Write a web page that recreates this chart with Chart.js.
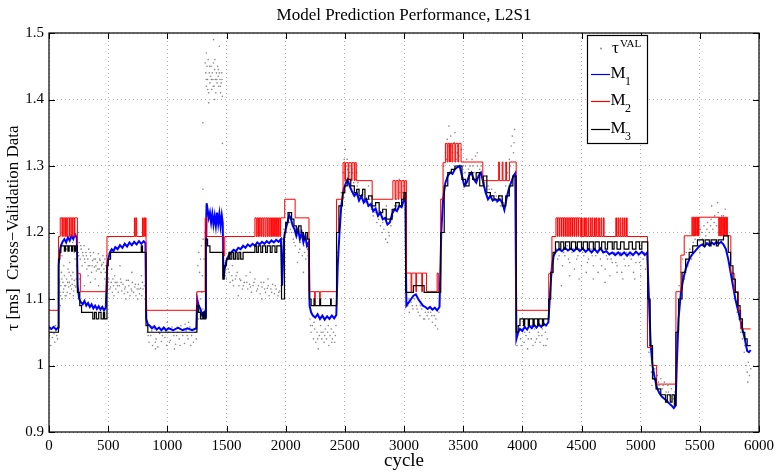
<!DOCTYPE html>
<html>
<head>
<meta charset="utf-8">
<script src="https://cdn.jsdelivr.net/npm/chart.js@4/dist/chart.umd.min.js"></script>
<style>
  html, body { margin: 0; padding: 0; background: #fff; }
  #wrap { width: 779px; height: 474px; }
</style>
</head>
<body>
<div id="wrap"><canvas id="chart" width="779" height="474"></canvas></div>
<script>
// Tick values
const xTicks = [0, 500, 1000, 1500, 2000, 2500, 3000, 3500, 4000, 4500, 5000, 5500, 6000];
const yTicks = [0.9, 1.0, 1.1, 1.2, 1.3, 1.4, 1.5];

// tau^VAL measured samples (gray dots), [cycle, ms]
const tauVal = [
  [5,1.045],[12,1.055],[20,1.05],[28,1.042],[35,1.058],[42,1.048],[50,1.035],[58,1.052],[65,1.045],[72,1.04],[15,1.03],[55,1.06],
  [85,1.13],[92,1.11],[100,1.12],[105,1.14],[112,1.10],[118,1.125],[124,1.115],[130,1.135],[136,1.105],[142,1.12],[148,1.13],[154,1.11],[160,1.145],[166,1.118],[172,1.125],[178,1.108],[184,1.135],[190,1.115],[196,1.122],[202,1.14],[208,1.112],[214,1.128],[220,1.16],[226,1.118],[232,1.15],[110,1.165],[150,1.175],[200,1.185],[180,1.19],[95,1.09],
  [88,1.125],[98,1.105],[108,1.13],[120,1.11],[132,1.12],[145,1.105],[158,1.125],[170,1.14],[182,1.12],[194,1.13],[206,1.105],[218,1.12],[230,1.13],[125,1.15],[175,1.155],[215,1.17],
  [248,1.17],[256,1.185],[264,1.16],[272,1.175],[280,1.15],[288,1.165],[296,1.18],[304,1.155],[312,1.17],[320,1.145],[328,1.16],[336,1.175],[344,1.15],[352,1.165],[360,1.14],[368,1.158],[376,1.17],[384,1.148],[392,1.16],[400,1.142],[408,1.155],[416,1.168],[424,1.145],[432,1.158],[440,1.14],[448,1.152],[456,1.165],[464,1.145],[472,1.16],[480,1.15],[260,1.13],[300,1.12],[350,1.125],[420,1.12],[470,1.13],[250,1.2],
  [252,1.165],[268,1.18],[284,1.17],[300,1.16],[316,1.165],[332,1.15],[348,1.17],[364,1.15],[380,1.16],[396,1.15],[412,1.145],[428,1.16],[444,1.15],[460,1.155],[476,1.14],[485,1.165],[330,1.135],[390,1.13],
  [495,1.12],[505,1.13],[515,1.115],[525,1.125],[535,1.11],[545,1.12],[555,1.135],[565,1.115],[575,1.125],[585,1.11],[595,1.12],[605,1.13],[615,1.112],[625,1.122],[635,1.108],[645,1.118],[655,1.128],[665,1.11],[675,1.12],[685,1.105],[695,1.115],[705,1.125],[715,1.11],[725,1.118],[735,1.105],[745,1.115],[755,1.122],[765,1.108],[775,1.116],[785,1.105],[795,1.115],[805,1.12],[530,1.145],[600,1.15],[700,1.14],[780,1.135],[810,1.1],
  [500,1.125],[520,1.118],[540,1.13],[560,1.125],[580,1.12],[610,1.125],[640,1.115],[670,1.128],[700,1.112],[730,1.122],[760,1.115],[790,1.125],[815,1.11],[550,1.105],[650,1.1],[750,1.1],
  [830,1.05],[845,1.035],[860,1.045],[875,1.03],[890,1.055],[905,1.04],[920,1.028],[935,1.048],[950,1.036],[965,1.055],[980,1.042],[995,1.03],[1010,1.05],[1025,1.038],[1040,1.058],[1055,1.045],[1070,1.032],[1085,1.05],[1100,1.04],[1115,1.06],[1130,1.045],[1145,1.033],[1160,1.052],[1175,1.04],[1190,1.058],[1205,1.045],[1220,1.035],[1235,1.05],[1245,1.04],[1000,1.065],[1180,1.065],
  [838,1.045],[868,1.052],[898,1.035],[928,1.05],[958,1.045],[988,1.052],[1018,1.035],[1048,1.05],[1078,1.045],[1108,1.03],[1138,1.055],[1168,1.045],[1198,1.03],[1228,1.055],[900,1.025],[1060,1.025],[1150,1.062],
  [1255,1.08],[1262,1.07],[1270,1.09],[1278,1.1],[1285,1.075],[1292,1.11],[1300,1.085],[1258,1.15],[1265,1.17],[1272,1.14],[1280,1.16],[1288,1.18],[1295,1.135],[1302,1.19],[1310,1.16],[1318,1.2],[1300,1.265],[1300,1.365],[1466,1.334],
  [1325,1.44],[1330,1.42],[1335,1.45],[1340,1.43],[1345,1.46],[1350,1.41],[1355,1.44],[1360,1.425],[1365,1.435],[1370,1.45],[1375,1.415],[1380,1.44],[1385,1.43],[1390,1.455],[1395,1.42],[1400,1.445],[1405,1.43],[1410,1.41],[1415,1.44],[1420,1.425],[1425,1.45],[1430,1.435],[1435,1.42],[1440,1.44],[1445,1.43],[1450,1.41],[1455,1.425],[1460,1.44],[1465,1.405],[1330,1.47],[1350,1.395],[1390,1.49],[1440,1.48],[1320,1.455],[1400,1.40],
  [1328,1.43],[1342,1.415],[1358,1.45],[1372,1.43],[1388,1.42],[1402,1.46],[1418,1.43],[1432,1.445],[1448,1.42],[1462,1.43],
  [1485,1.14],[1500,1.13],[1515,1.145],[1530,1.125],[1545,1.135],[1560,1.12],[1575,1.13],[1590,1.14],[1605,1.12],[1620,1.128],[1635,1.115],[1650,1.125],[1665,1.135],[1680,1.115],[1695,1.122],[1710,1.11],[1725,1.12],[1740,1.13],[1755,1.112],[1770,1.12],[1785,1.108],[1800,1.118],[1815,1.125],[1830,1.11],[1845,1.116],[1860,1.105],[1875,1.115],[1890,1.122],[1905,1.108],[1920,1.115],[1935,1.105],[1950,1.112],[1962,1.12],[1490,1.155],[1550,1.15],[1700,1.14],[1850,1.13],
  [1492,1.135],[1522,1.14],[1552,1.128],[1582,1.135],[1612,1.13],[1642,1.12],[1672,1.125],[1702,1.118],[1732,1.125],[1762,1.115],[1792,1.125],[1822,1.115],[1852,1.12],[1882,1.11],[1912,1.12],[1942,1.11],[1600,1.105],[1800,1.1],
  [1975,1.19],[1990,1.2],[2005,1.21],[2020,1.22],[2035,1.215],[2050,1.2],[2065,1.19],[2080,1.18],[2095,1.195],[2110,1.17],[2125,1.185],[2140,1.165],[2155,1.18],[2170,1.16],[2185,1.175],[2195,1.15],[2100,1.155],[2150,1.14],
  [1985,1.205],[2010,1.2],[2040,1.205],[2070,1.185],[2120,1.175],[2160,1.17],[2190,1.165],
  [2205,1.07],[2215,1.05],[2225,1.06],[2235,1.04],[2245,1.055],[2255,1.035],[2265,1.05],[2275,1.025],[2285,1.045],[2295,1.06],[2305,1.04],[2315,1.05],[2325,1.035],[2335,1.055],[2345,1.04],[2355,1.05],[2365,1.03],[2375,1.045],[2385,1.055],[2395,1.04],[2405,1.05],[2415,1.035],[2425,1.06],
  [2210,1.06],[2240,1.065],[2270,1.04],[2300,1.05],[2330,1.045],[2360,1.06],[2390,1.035],[2420,1.045],
  [2440,1.17],[2455,1.22],[2470,1.26],[2485,1.29],[2495,1.31],[2505,1.325],[2515,1.30],[2525,1.295],[2535,1.285],[2545,1.30],[2555,1.28],[2565,1.29],[2575,1.275],[2590,1.28],[2605,1.27],[2620,1.265],[2635,1.255],[2650,1.26],[2665,1.25],[2680,1.245],[2695,1.24],[2710,1.25],[2725,1.235],[2740,1.225],[2755,1.23],[2770,1.215],[2785,1.22],[2800,1.21],[2815,1.2],[2830,1.205],[2845,1.19],[2860,1.185],[2875,1.195],[2890,1.21],[2905,1.225],[2920,1.24],[2935,1.25],[2950,1.235],[2965,1.26],[2980,1.245],[2995,1.27],[3005,1.255],[2600,1.29],[2700,1.27],[2850,1.24],[2960,1.28],
  [2500,1.30],[2520,1.31],[2540,1.29],[2560,1.295],[2610,1.275],[2660,1.265],[2720,1.24],[2780,1.225],[2820,1.215],[2870,1.2],[2940,1.24],[2990,1.26],
  [3030,1.09],[3045,1.08],[3060,1.095],[3075,1.085],[3090,1.10],[3105,1.09],[3120,1.08],[3135,1.075],[3150,1.085],[3165,1.07],[3180,1.08],[3195,1.075],[3210,1.07],[3225,1.08],[3240,1.065],[3255,1.075],[3270,1.07],[3285,1.055],[3295,1.08],
  [3035,1.1],[3070,1.09],[3110,1.085],[3140,1.09],[3175,1.07],[3205,1.08],[3235,1.075],[3265,1.06],
  [3320,1.25],[3335,1.3],[3350,1.32],[3365,1.34],[3380,1.33],[3395,1.345],[3410,1.32],[3425,1.335],[3440,1.31],[3455,1.33],[3470,1.315],[3485,1.325],[3500,1.3],[3515,1.29],[3530,1.31],[3545,1.295],[3560,1.30],[3575,1.31],[3590,1.29],[3605,1.315],[3620,1.3],[3635,1.29],[3650,1.30],[3665,1.28],[3680,1.275],[3695,1.265],[3710,1.27],[3725,1.255],[3740,1.265],[3755,1.25],[3770,1.26],[3785,1.245],[3800,1.255],[3815,1.24],[3830,1.25],[3845,1.235],[3860,1.27],[3875,1.29],[3890,1.31],[3905,1.33],[3915,1.345],[3925,1.32],[3935,1.355],[3380,1.36],[3430,1.35],[3620,1.32],[3700,1.285],
  [3360,1.31],[3400,1.33],[3450,1.32],[3520,1.30],[3580,1.3],[3640,1.295],[3720,1.265],[3780,1.255],[3840,1.245],[3900,1.3],[3930,1.335],
  [3955,1.03],[3970,1.05],[3985,1.04],[4000,1.055],[4015,1.035],[4030,1.045],[4045,1.025],[4060,1.05],[4075,1.04],[4090,1.03],[4105,1.055],[4120,1.04],[4135,1.05],[4150,1.035],[4165,1.045],[4180,1.03],[4195,1.05],[4210,1.04],
  [3960,1.045],[3990,1.03],[4020,1.05],[4050,1.04],[4080,1.06],[4110,1.035],[4140,1.045],[4170,1.055],[4200,1.03],
  [4235,1.10],[4250,1.14],[4265,1.16],[4280,1.17],[4300,1.16],[4320,1.175],[4340,1.15],[4360,1.165],[4380,1.18],[4400,1.155],[4420,1.17],[4440,1.145],[4460,1.16],[4480,1.175],[4500,1.15],[4520,1.165],[4540,1.14],[4560,1.16],[4580,1.175],[4600,1.15],[4620,1.165],[4640,1.14],[4660,1.16],[4680,1.17],[4700,1.145],[4720,1.16],[4740,1.135],[4760,1.155],[4780,1.17],[4800,1.15],[4820,1.165],[4840,1.14],[4860,1.16],[4880,1.17],[4900,1.15],[4920,1.16],[4940,1.14],[4960,1.155],[4980,1.165],[5000,1.15],[5020,1.16],[5040,1.145],[5055,1.16],[4330,1.12],[4480,1.13],[4700,1.125],[4850,1.13],[5000,1.135],
  [4290,1.175],[4310,1.165],[4350,1.17],[4390,1.16],[4430,1.175],[4470,1.165],[4510,1.17],[4550,1.155],[4590,1.165],[4630,1.17],[4670,1.15],[4710,1.165],[4750,1.16],[4790,1.155],[4830,1.17],[4870,1.15],[4910,1.165],[4950,1.17],[4990,1.155],[5030,1.17],[4400,1.135],[4600,1.13],[4800,1.14],[4950,1.13],
  [5070,1.02],[5080,1.0],[5090,0.99],[5100,1.01],[5110,0.98],[5120,0.995],[5130,0.975],[5140,0.985],[5155,0.97],[5170,0.98],[5185,0.965],[5200,0.975],[5215,0.96],[5230,0.97],[5245,0.955],[5260,0.965],[5275,0.95],[5290,0.96],[5075,1.03],[5095,0.97],
  [5105,0.99],[5150,0.975],[5190,0.97],[5235,0.96],[5280,0.955],
  [5310,1.05],[5325,1.12],[5340,1.14],[5355,1.16],[5370,1.13],[5385,1.17],[5400,1.15],[5415,1.175],[5430,1.16],[5445,1.185],[5460,1.19],[5475,1.2],[5490,1.18],[5505,1.205],[5520,1.19],[5535,1.21],[5550,1.195],[5565,1.215],[5580,1.2],[5595,1.22],[5610,1.205],[5625,1.225],[5640,1.21],[5655,1.23],[5670,1.2],[5685,1.225],[5700,1.21],[5715,1.235],[5730,1.2],[5600,1.24],[5650,1.245],[5500,1.17],
  [5450,1.195],[5520,1.2],[5560,1.205],[5590,1.21],[5620,1.215],[5660,1.22],[5700,1.225],[5720,1.215],
  [5755,1.15],[5770,1.13],[5785,1.12],[5800,1.1],[5815,1.08],[5830,1.07],[5845,1.05],[5860,1.04],[5875,1.02],[5890,1.0],[5900,0.99],[5910,1.005],[5920,0.985],[5930,0.995],[5880,1.03],[5905,0.975]
];

// M1 prediction (blue)
const m1 = [
  [0,1.058],[20,1.055],[40,1.058],[60,1.054],[78,1.057],
  [82,1.15],[90,1.17],[100,1.18],[115,1.186],[130,1.19],[145,1.185],[160,1.193],[175,1.188],[190,1.195],[205,1.19],[220,1.197],[235,1.192],
  [242,1.12],[255,1.10],[270,1.095],[285,1.092],[300,1.097],[315,1.09],[330,1.094],[345,1.088],[360,1.092],[375,1.086],[390,1.09],[405,1.085],[420,1.089],[435,1.084],[450,1.088],[465,1.083],[480,1.087],
  [492,1.15],[500,1.16],[515,1.17],[530,1.175],[545,1.172],[560,1.178],[580,1.175],[600,1.181],[620,1.177],[640,1.183],[660,1.179],[680,1.185],[700,1.181],[720,1.186],[740,1.182],[760,1.187],[780,1.183],[800,1.187],[815,1.184],
  [822,1.07],[835,1.062],[850,1.06],[870,1.056],[890,1.059],[910,1.054],[930,1.057],[950,1.053],[970,1.057],[990,1.053],[1010,1.056],[1050,1.053],[1090,1.057],[1130,1.053],[1170,1.056],[1210,1.053],[1245,1.056],
  [1252,1.10],[1265,1.09],[1280,1.085],[1295,1.075],[1310,1.08],[1320,1.072],
  [1326,1.20],[1332,1.244],[1340,1.235],[1350,1.222],[1360,1.23],[1370,1.215],[1380,1.228],[1390,1.212],[1400,1.225],[1410,1.21],[1420,1.23],[1430,1.213],[1440,1.228],[1450,1.21],[1460,1.226],[1468,1.215],
  [1474,1.13],[1485,1.145],[1500,1.158],[1520,1.166],[1540,1.17],[1560,1.174],[1580,1.172],[1600,1.177],[1620,1.175],[1640,1.18],[1660,1.177],[1680,1.182],[1700,1.179],[1720,1.183],[1740,1.18],[1760,1.185],[1780,1.182],[1800,1.186],[1820,1.183],[1840,1.187],[1860,1.184],[1880,1.188],[1900,1.185],[1920,1.189],[1940,1.186],[1960,1.19],
  [1970,1.12],[1985,1.19],[2000,1.205],[2015,1.215],[2030,1.226],[2045,1.22],[2060,1.21],[2075,1.205],[2090,1.195],[2105,1.205],[2120,1.19],[2135,1.2],[2150,1.185],[2165,1.195],[2180,1.18],[2195,1.185],
  [2202,1.09],[2215,1.08],[2230,1.075],[2250,1.072],[2270,1.077],[2290,1.07],[2310,1.075],[2330,1.069],[2350,1.074],[2370,1.07],[2390,1.075],[2410,1.071],[2428,1.076],
  [2440,1.15],[2455,1.2],[2470,1.24],[2490,1.265],[2510,1.275],[2525,1.28],[2540,1.27],[2560,1.262],[2580,1.255],[2600,1.26],[2620,1.248],[2640,1.255],[2660,1.245],[2680,1.25],[2700,1.24],[2720,1.243],[2740,1.232],[2760,1.236],[2780,1.225],[2800,1.23],[2820,1.22],[2840,1.222],[2860,1.212],[2880,1.215],[2900,1.228],[2920,1.235],[2940,1.232],[2960,1.24],[2980,1.238],[3000,1.25],[3012,1.245],
  [3020,1.09],[3040,1.095],[3060,1.1],[3080,1.105],[3100,1.107],[3120,1.1],[3140,1.095],[3160,1.09],[3180,1.088],[3200,1.085],[3220,1.088],[3240,1.084],[3260,1.087],[3280,1.083],[3300,1.088],
  [3315,1.2],[3330,1.25],[3350,1.275],[3370,1.285],[3390,1.29],[3410,1.288],[3430,1.295],[3450,1.298],[3470,1.3],[3490,1.285],[3510,1.27],[3530,1.275],[3550,1.285],[3570,1.29],[3590,1.28],[3610,1.275],[3630,1.285],[3650,1.29],[3670,1.275],[3690,1.26],[3710,1.25],[3730,1.255],[3750,1.248],[3770,1.25],[3790,1.247],[3810,1.25],[3830,1.245],[3848,1.234],[3865,1.25],[3885,1.265],[3905,1.275],[3925,1.285],[3940,1.289],
  [3950,1.04],[3965,1.05],[3980,1.055],[4000,1.052],[4020,1.058],[4040,1.054],[4060,1.06],[4080,1.056],[4100,1.061],[4120,1.057],[4140,1.062],[4160,1.058],[4180,1.063],[4200,1.06],[4220,1.065],
  [4235,1.11],[4250,1.15],[4265,1.165],[4285,1.172],[4310,1.175],[4335,1.172],[4360,1.177],[4385,1.173],[4410,1.176],[4435,1.172],[4460,1.177],[4485,1.172],[4510,1.176],[4535,1.171],[4560,1.175],[4585,1.17],[4610,1.175],[4635,1.17],[4660,1.176],[4685,1.17],[4710,1.172],[4735,1.167],[4760,1.17],[4785,1.166],[4810,1.17],[4835,1.166],[4860,1.17],[4885,1.165],[4910,1.17],[4935,1.166],[4960,1.171],[4985,1.167],[5010,1.171],[5035,1.166],[5055,1.17],
  [5070,1.10],[5085,1.03],[5100,1.0],[5120,0.98],[5140,0.965],[5160,0.958],[5180,0.953],[5200,0.95],[5220,0.947],[5240,0.943],[5260,0.94],[5280,0.936],[5295,0.94],
  [5305,1.0],[5320,1.07],[5340,1.11],[5360,1.13],[5380,1.145],[5400,1.155],[5420,1.163],[5440,1.168],[5460,1.172],[5480,1.176],[5500,1.18],[5520,1.182],[5540,1.179],[5560,1.184],[5580,1.181],[5600,1.185],[5620,1.182],[5640,1.186],[5660,1.183],[5680,1.186],[5700,1.182],[5720,1.175],[5740,1.16],[5760,1.14],[5780,1.12],[5800,1.10],[5820,1.085],[5840,1.07],[5860,1.055],[5880,1.04],[5900,1.022],[5915,1.02],[5930,1.023]
];

// M2 prediction (red), step values: each level holds until the next cycle listed
const m2 = [
  [0,1.083],[80,1.194],[95,1.222],[110,1.194],[113,1.222],[125,1.194],[128,1.222],[140,1.194],[143,1.222],[150,1.194],[155,1.222],[170,1.194],[173,1.222],[185,1.194],[188,1.222],[200,1.194],[203,1.222],[215,1.194],[218,1.222],
  [240,1.138],[265,1.111],[490,1.194],[722,1.222],[728,1.194],[735,1.222],[741,1.194],[790,1.222],[796,1.194],[803,1.222],[809,1.194],[815,1.222],
  [820,1.083],[1250,1.111],[1320,1.222],[1335,1.194],[1470,1.165],[1485,1.194],
  [1740,1.222],[1752,1.194],[1760,1.222],[1770,1.194],[1778,1.222],[1790,1.194],[1797,1.222],[1808,1.194],[1815,1.222],[1826,1.194],[1834,1.222],[1845,1.194],[1852,1.222],[1862,1.194],[1870,1.222],[1880,1.194],[1888,1.222],[1898,1.194],[1905,1.222],[1915,1.194],[1922,1.222],[1932,1.194],[1940,1.222],[1950,1.194],[1957,1.222],
  [1992,1.25],[2080,1.222],[2197,1.111],[2245,1.09],[2250,1.111],[2287,1.09],[2292,1.111],
  [2430,1.25],[2485,1.305],[2500,1.278],[2506,1.305],[2528,1.278],[2534,1.305],[2555,1.278],[2561,1.305],[2580,1.278],[2586,1.305],[2597,1.278],[2731,1.25],
  [2906,1.278],[2925,1.25],[2932,1.278],[2950,1.25],[2957,1.278],[2975,1.25],[2982,1.278],[3000,1.25],[3007,1.278],
  [3020,1.139],[3060,1.111],[3066,1.139],[3100,1.111],[3106,1.139],[3150,1.111],[3156,1.139],[3190,1.111],[3280,1.139],[3290,1.111],
  [3310,1.25],[3330,1.305],[3350,1.334],[3365,1.306],[3372,1.334],[3385,1.306],[3392,1.334],[3405,1.306],[3412,1.334],[3430,1.306],[3437,1.334],[3455,1.306],[3462,1.334],
  [3482,1.306],[3666,1.278],[3800,1.306],[3806,1.278],[3830,1.306],[3836,1.278],[3860,1.306],[3866,1.278],[3891,1.306],
  [3948,1.083],[4223,1.138],[4250,1.194],
  [4284,1.222],[4296,1.194],[4300,1.222],[4312,1.194],[4316,1.222],[4328,1.194],[4332,1.222],[4344,1.194],[4348,1.222],[4360,1.194],[4364,1.222],[4376,1.194],[4380,1.222],[4392,1.194],[4396,1.222],[4408,1.194],[4412,1.222],[4424,1.194],[4428,1.222],[4440,1.194],[4444,1.222],[4456,1.194],[4460,1.222],[4472,1.194],[4476,1.222],[4490,1.194],
  [4500,1.222],[4506,1.194],[4520,1.222],[4526,1.194],[4535,1.222],[4541,1.194],[4555,1.222],[4561,1.194],[4575,1.222],[4581,1.194],[4590,1.222],[4596,1.194],[4610,1.222],[4616,1.194],[4625,1.222],[4631,1.194],[4645,1.222],[4651,1.194],[4665,1.222],[4671,1.194],[4685,1.222],[4691,1.194],
  [4790,1.222],[4796,1.194],[4808,1.222],[4814,1.194],[4826,1.222],[4832,1.194],[4845,1.222],[4851,1.194],[4862,1.222],[4868,1.194],[4880,1.222],[4886,1.194],
  [5058,1.027],[5101,1.0],[5135,0.972],[5298,1.111],[5340,1.166],[5368,1.195],
  [5433,1.223],[5440,1.195],[5445,1.223],[5452,1.195],[5457,1.223],[5464,1.195],[5469,1.223],[5476,1.195],[5481,1.223],[5488,1.195],[5493,1.223],
  [5660,1.195],[5665,1.223],[5672,1.195],[5677,1.223],[5684,1.195],[5689,1.223],[5696,1.195],[5701,1.223],[5708,1.195],[5713,1.223],[5720,1.195],[5725,1.223],
  [5733,1.195],[5762,1.139],[5790,1.111],[5826,1.083],[5845,1.055],[5930,1.055]
];

// M3 prediction (black), step values
const m3 = [
  [0,1.05],[80,1.16],[90,1.17],[100,1.18],[130,1.172],[140,1.18],[160,1.172],[170,1.18],[190,1.172],[200,1.18],[215,1.172],[225,1.18],
  [240,1.11],[260,1.09],[275,1.08],[370,1.07],[385,1.08],[400,1.07],[420,1.08],[440,1.07],[460,1.08],[470,1.07],
  [490,1.15],[500,1.16],[520,1.17],[780,1.18],[790,1.17],[820,1.06],[835,1.05],
  [1250,1.09],[1265,1.08],[1280,1.07],[1300,1.08],[1310,1.07],[1325,1.19],[1340,1.18],[1360,1.17],
  [1470,1.13],[1480,1.15],[1500,1.16],[1520,1.17],[1530,1.16],[1545,1.17],[1560,1.16],[1575,1.17],[1590,1.16],[1605,1.17],[1620,1.16],[1640,1.17],
  [1740,1.18],[1755,1.17],[1770,1.18],[1790,1.17],[1805,1.18],[1830,1.17],[1845,1.18],[1870,1.17],[1885,1.18],[1910,1.17],[1925,1.18],
  [1965,1.10],[1990,1.20],[2000,1.215],[2020,1.23],[2050,1.22],[2070,1.21],[2090,1.20],[2110,1.21],[2130,1.20],[2150,1.19],[2170,1.20],[2185,1.19],
  [2200,1.10],[2215,1.09],[2240,1.10],[2245,1.09],[2290,1.10],[2295,1.09],[2380,1.10],[2385,1.09],
  [2430,1.20],[2450,1.24],[2480,1.26],[2500,1.27],[2520,1.28],[2550,1.27],[2580,1.26],[2600,1.265],[2620,1.255],[2650,1.265],[2670,1.25],[2700,1.255],[2730,1.24],[2760,1.245],[2790,1.23],[2820,1.235],[2850,1.22],[2900,1.235],[2930,1.245],[2960,1.24],[2980,1.25],[3000,1.26],
  [3015,1.11],[3080,1.12],[3170,1.11],
  [3310,1.20],[3340,1.27],[3370,1.29],[3400,1.295],[3430,1.30],[3490,1.28],[3520,1.27],[3550,1.29],[3580,1.28],[3610,1.29],[3640,1.27],[3670,1.285],[3700,1.26],[3730,1.255],[3760,1.25],[3800,1.255],[3830,1.24],[3860,1.255],[3890,1.27],[3920,1.285],
  [3948,1.05],[3965,1.06],[3980,1.07],[4010,1.06],[4020,1.07],[4050,1.06],[4060,1.07],[4090,1.06],[4100,1.07],[4130,1.06],[4140,1.07],[4170,1.06],[4180,1.07],
  [4223,1.10],[4240,1.14],[4260,1.17],[4280,1.186],[4310,1.175],[4325,1.186],[4350,1.175],[4365,1.186],[4400,1.175],[4415,1.186],[4450,1.175],[4465,1.186],[4500,1.175],[4515,1.186],[4550,1.175],[4565,1.186],[4600,1.175],[4615,1.186],[4650,1.175],[4670,1.186],[4700,1.175],[4720,1.186],[4760,1.175],[4775,1.186],[4800,1.175],[4830,1.186],[4860,1.175],[4900,1.186],[4930,1.175],[4960,1.186],[4990,1.175],[5010,1.186],
  [5060,1.10],[5080,1.03],[5100,0.98],[5130,0.965],[5170,0.956],[5210,0.945],[5225,0.956],[5250,0.945],[5265,0.956],[5285,0.94],
  [5298,1.05],[5320,1.10],[5350,1.14],[5380,1.16],[5410,1.17],[5440,1.18],[5480,1.189],[5530,1.18],[5545,1.189],[5580,1.18],[5595,1.189],[5640,1.18],[5655,1.189],[5700,1.195],
  [5740,1.17],[5760,1.15],[5780,1.13],[5800,1.11],[5820,1.09],[5840,1.07],[5860,1.05],[5880,1.04],[5900,1.03],[5930,1.03]
];

const SERIF = '"Liberation Serif", "DejaVu Serif", serif';
const COLORS = { tau: '#858585', m1: '#0000ff', m2: '#ff0000', m3: '#000000' };
const toXY = arr => arr.map(p => ({ x: p[0], y: p[1] }));

// Box, inward ticks, titles and legend (matlab look)
const frame = {
  id: 'frame',
  afterDraw(chart) {
    const { ctx, chartArea: a, scales } = chart;
    ctx.save();
    ctx.strokeStyle = '#000';
    ctx.lineWidth = 1.2;
    ctx.strokeRect(a.left, a.top, a.right - a.left, a.bottom - a.top);

    ctx.lineWidth = 1;
    ctx.beginPath();
    xTicks.forEach(v => {
      const px = Math.round(scales.x.getPixelForValue(v)) + 0.5;
      ctx.moveTo(px, a.bottom); ctx.lineTo(px, a.bottom - 6);
      ctx.moveTo(px, a.top); ctx.lineTo(px, a.top + 6);
    });
    yTicks.forEach(v => {
      const py = Math.round(scales.y.getPixelForValue(v)) + 0.5;
      ctx.moveTo(a.left, py); ctx.lineTo(a.left + 6, py);
      ctx.moveTo(a.right, py); ctx.lineTo(a.right - 6, py);
    });
    ctx.stroke();

    // titles
    ctx.fillStyle = '#000';
    ctx.textAlign = 'center';
    ctx.textBaseline = 'alphabetic';
    ctx.font = '17px ' + SERIF;
    ctx.fillText('Model Prediction Performance, L2S1', (a.left + a.right) / 2, 20);
    ctx.font = '19px ' + SERIF;
    ctx.fillText('cycle', (a.left + a.right) / 2, 466);
    ctx.save();
    ctx.translate(14, 228);
    ctx.rotate(-Math.PI / 2);
    ctx.textBaseline = 'middle';
    ctx.font = '17px ' + SERIF;
    ctx.fillText('\u03c4 [ms]  Cross\u2212Validation Data', 0, 0);
    ctx.restore();

    // legend
    const lx = 587, ly = 35, lw = 60, lh = 108;
    ctx.fillStyle = '#fff';
    ctx.fillRect(lx, ly, lw, lh);
    ctx.strokeStyle = '#000';
    ctx.lineWidth = 1.2;
    ctx.strokeRect(lx + 0.5, ly + 0.5, lw, lh);
    ctx.fillStyle = COLORS.tau;
    ctx.beginPath(); ctx.arc(601, 48.5, 0.9, 0, Math.PI * 2); ctx.fill();
    ctx.fillStyle = '#000';
    ctx.textAlign = 'left';
    ctx.font = '17px ' + SERIF;
    ctx.fillText('\u03c4', 612, 53);
    ctx.font = '11px ' + SERIF;
    ctx.fillText('VAL', 620, 47);
    [[COLORS.m1, 74, '1'], [COLORS.m2, 101, '2'], [COLORS.m3, 129, '3']].forEach(([col, y, sub]) => {
      ctx.strokeStyle = col;
      ctx.lineWidth = 1.2;
      ctx.beginPath(); ctx.moveTo(591, y + 0.5); ctx.lineTo(610, y + 0.5); ctx.stroke();
      ctx.fillStyle = '#000';
      ctx.font = '17px ' + SERIF;
      ctx.fillText('M', 610.5, y + 3.5);
      ctx.font = '12px ' + SERIF;
      ctx.fillText(sub, 625, y + 10.5);
    });
    ctx.restore();
  }
};

new Chart(document.getElementById('chart'), {
  type: 'line',
  data: {
    datasets: [
      { label: 'tauVAL', data: toXY(tauVal), showLine: false, pointRadius: 0.8, pointBorderWidth: 0,
        backgroundColor: COLORS.tau, borderColor: COLORS.tau, order: 4 },
      { label: 'M1', data: toXY(m1), borderColor: COLORS.m1, borderWidth: 2, pointRadius: 0, tension: 0, order: 3 },
      { label: 'M2', data: toXY(m2), borderColor: COLORS.m2, borderWidth: 1, pointRadius: 0, stepped: true, order: 2 },
      { label: 'M3', data: toXY(m3), borderColor: COLORS.m3, borderWidth: 1.2, pointRadius: 0, stepped: true, order: 1 }
    ]
  },
  options: {
    responsive: false,
    animation: false,
    devicePixelRatio: 1,
    layout: { padding: { left: 0, right: 19, top: 33, bottom: 0 } },
    plugins: { legend: { display: false }, title: { display: false }, tooltip: { enabled: false } },
    scales: {
      x: {
        type: 'linear', min: 0, max: 6000,
        afterBuildTicks: s => { s.ticks = xTicks.map(v => ({ value: v })); },
        afterFit: s => { s.height = 42; },
        grid: { color: '#b0b0b0', drawTicks: false },
        border: { display: false, dash: [1, 3] },
        ticks: { color: '#000', font: { family: SERIF, size: 15 }, padding: 5, maxRotation: 0, autoSkip: false,
                 callback: v => String(v) }
      },
      y: {
        type: 'linear', min: 0.9, max: 1.5,
        afterBuildTicks: s => { s.ticks = yTicks.map(v => ({ value: v })); },
        afterFit: s => { s.width = 49; },
        grid: { color: '#b0b0b0', drawTicks: false },
        border: { display: false, dash: [1, 3] },
        ticks: { color: '#000', font: { family: SERIF, size: 15 }, padding: 5,
                 callback: v => String(parseFloat(v.toFixed(1))) }
      }
    }
  },
  plugins: [frame]
});
</script>
</body>
</html>
